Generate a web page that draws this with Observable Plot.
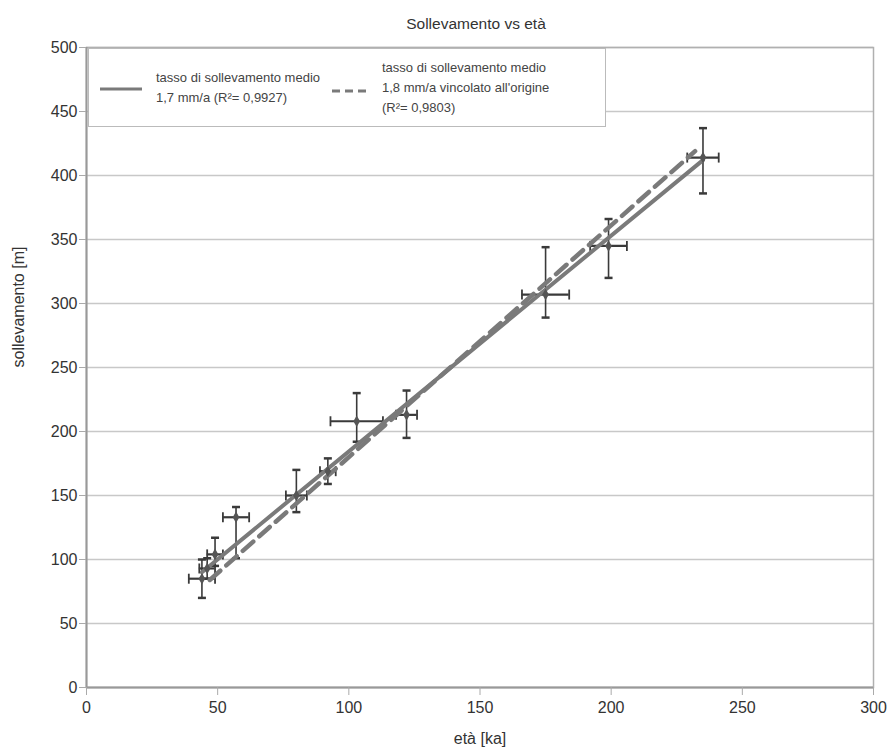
<!DOCTYPE html>
<html>
<head>
<meta charset="utf-8">
<script src="https://cdn.jsdelivr.net/npm/d3@7"></script>
<script src="https://cdn.jsdelivr.net/npm/@observablehq/plot@0.6"></script>
<style>
  body { margin: 0; background: #fff; font-family: "Liberation Sans", Arial, sans-serif; }
  #wrap { position: relative; width: 890px; height: 755px; }
  #legend { position: absolute; left: 88px; top: 48px; width: 518px; height: 79px; border: 1px solid #bbb; background: #fff; box-sizing: border-box; color: #444; font-size: 13px; line-height: 20px; }
  #legend .t { position: absolute; white-space: nowrap; }
  #legend svg { position: absolute; }
</style>
</head>
<body>
<div id="wrap"></div>
<script>
// ---- data ----
const age       = [44, 46, 49, 57, 80, 92, 103, 122, 175, 199, 235];
const ageErr    = [5, 3, 3, 5, 4, 3, 10, 4, 9, 7, 6];
const uplift    = [85, 93, 104, 133, 150, 169, 208, 213, 307, 345, 414];
const upliftLo  = [70, 85, 95, 101, 137, 159, 192, 195, 289, 320, 386];
const upliftHi  = [100, 101, 117, 141, 170, 179, 230, 232, 344, 366, 437];

// regression lines (end points)
const fitX      = [44, 235];
const fitY      = [90, 412];
const fit0X     = [47, 232];
const fit0Y     = [84, 419];

const xTicks = [0, 50, 100, 150, 200, 250, 300];
const yTicks = [0, 50, 100, 150, 200, 250, 300, 350, 400, 450, 500];

const titleText = "Sollevamento vs età";
const xLabel = "età [ka]";
const yLabel = "sollevamento [m]";
const legendSolid = ["tasso di sollevamento medio", "1,7 mm/a (R²= 0,9927)"];
const legendDashed = ["tasso di sollevamento medio", "1,8 mm/a vincolato all'origine", "(R²= 0,9803)"];

const pts = age.map((a, i) => ({x: a, xe: ageErr[i], y: uplift[i], lo: upliftLo[i], hi: upliftHi[i]}));
const fit = fitX.map((x, i) => ({x, y: fitY[i]}));
const fit0 = fit0X.map((x, i) => ({x, y: fit0Y[i]}));

const capH = { draw(ctx, size) { const r = Math.sqrt(size / Math.PI); ctx.moveTo(-r, 0); ctx.lineTo(r, 0); } };
const capV = { draw(ctx, size) { const r = Math.sqrt(size / Math.PI); ctx.moveTo(0, -r); ctx.lineTo(0, r); } };

const errColor = "#3a3a3a";
const lineColor = "#7a7a7a";

const chart = Plot.plot({
  width: 890,
  height: 755,
  marginTop: 47,
  marginLeft: 86,
  marginRight: 17,
  marginBottom: 68,
  style: { fontFamily: "Liberation Sans, Arial, sans-serif", fontSize: "16px", color: "#333", background: "#fff" },
  x: { domain: [0, 300] },
  y: { domain: [0, 500] },
  marks: [
    Plot.gridY(yTicks, { stroke: "#c8c8c8", strokeOpacity: 1, strokeWidth: 1.5 }),
    Plot.frame({ stroke: "#b0b0b0", strokeWidth: 1.5 }),
    Plot.ruleX([0], { stroke: "#999", strokeWidth: 2 }),
    Plot.ruleY([0], { stroke: "#999", strokeWidth: 2 }),
    Plot.axisX(xTicks, { tickSize: 8, tickPadding: 6, stroke: "#aaa", fill: "#333", fontSize: 16, label: null }),
    Plot.axisY(yTicks, { tickSize: 7, tickPadding: 2, stroke: "#aaa", fill: "#333", fontSize: 16, label: null }),
    Plot.text([xLabel], { frameAnchor: "bottom", dy: 56, fontSize: 16, fill: "#333" }),
    Plot.text([yLabel], { frameAnchor: "left", dx: -68, rotate: -90, fontSize: 16, fill: "#333" }),
    Plot.text([titleText], { frameAnchor: "top", dy: -30, dx: -4, fontSize: 15.5, fill: "#333" }),
    // error bars
    Plot.ruleX(pts, { x: "x", y1: "lo", y2: "hi", stroke: errColor, strokeWidth: 1.6 }),
    Plot.ruleY(pts, { y: "y", x1: d => d.x - d.xe, x2: d => d.x + d.xe, stroke: errColor, strokeWidth: 2.2 }),
    Plot.dot(pts, { x: "x", y: "lo", symbol: capH, r: 4, stroke: errColor, strokeWidth: 2.5 }),
    Plot.dot(pts, { x: "x", y: "hi", symbol: capH, r: 4, stroke: errColor, strokeWidth: 2.5 }),
    Plot.dot(pts, { x: d => d.x - d.xe, y: "y", symbol: capV, r: 5, stroke: errColor, strokeWidth: 1.8 }),
    Plot.dot(pts, { x: d => d.x + d.xe, y: "y", symbol: capV, r: 5, stroke: errColor, strokeWidth: 1.8 }),
    // regression lines
    Plot.line(fit, { x: "x", y: "y", stroke: lineColor, strokeWidth: 4 }),
    Plot.line(fit0, { x: "x", y: "y", stroke: lineColor, strokeWidth: 4.5, strokeDasharray: "14,8" }),
    Plot.dot(pts, { x: "x", y: "y", symbol: "diamond", r: 3.5, fill: "#555", stroke: "none" })
  ]
});

const wrap = document.getElementById("wrap");
wrap.appendChild(chart);

// legend overlay
const lg = document.createElement("div");
lg.id = "legend";
lg.innerHTML = `
  <svg style="left:11px;top:37px" width="44" height="6"><line x1="0" y1="3" x2="42" y2="3" stroke="${lineColor}" stroke-width="3"/></svg>
  <div class="t" style="left:67px;top:19px">${legendSolid[0]}<br>${legendSolid[1]}</div>
  <svg style="left:243px;top:39px" width="44" height="6"><line x1="0" y1="3" x2="36" y2="3" stroke="${lineColor}" stroke-width="3" stroke-dasharray="8,5"/></svg>
  <div class="t" style="left:293px;top:9px">${legendDashed[0]}<br>${legendDashed[1]}<br>${legendDashed[2]}</div>
`;
wrap.appendChild(lg);
</script>
</body>
</html>
